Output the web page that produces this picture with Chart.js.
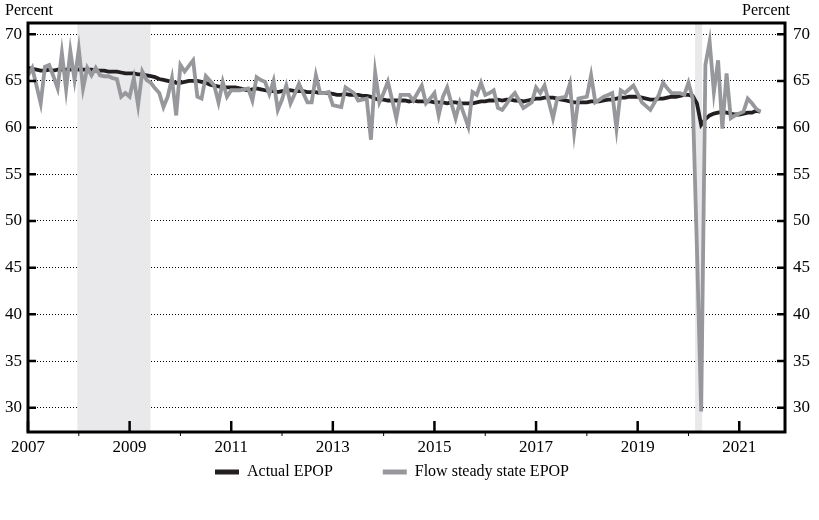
<!DOCTYPE html>
<html>
<head>
<meta charset="utf-8">
<script src="https://cdn.jsdelivr.net/npm/chart.js@4.4.1/dist/chart.umd.min.js"></script>
<style>
  html, body { margin: 0; padding: 0; background: #fff; }
  #wrap { width: 819px; height: 520px; }
</style>
</head>
<body>
<div id="wrap"><canvas id="chart" width="819" height="520"></canvas></div>
<script>
// Données mensuelles, janvier 2007 à juin 2021
const startYear = 2007;

const actualEpop = [
    66.4, 66.3, 66.2, 66.1, 66.1, 66.2, 66.1, 66.2, 66.2, 66.2, 66.2, 66.3, // 2007
    66.2, 66.2, 66.2, 66.2, 66.1, 66.1, 66.1, 66.0, 66.0, 66.0, 65.9, 65.8, // 2008
    65.8, 65.8, 65.7, 65.7, 65.6, 65.5, 65.4, 65.2, 65.1, 65.0, 64.9, 64.8, // 2009
    64.8, 64.9, 65.0, 65.0, 65.0, 64.9, 64.8, 64.6, 64.5, 64.4, 64.3, 64.3, // 2010
    64.3, 64.3, 64.2, 64.1, 64.0, 64.1, 64.2, 64.1, 64.0, 63.9, 63.9, 63.8, // 2011
    63.9, 63.9, 64.0, 63.9, 63.9, 63.9, 63.8, 63.8, 63.8, 63.7, 63.7, 63.7, // 2012
    63.6, 63.5, 63.5, 63.6, 63.5, 63.5, 63.5, 63.4, 63.4, 63.3, 63.1, 63.0, // 2013
    63.0, 62.9, 62.9, 62.9, 62.9, 62.9, 62.8, 62.9, 62.8, 62.8, 62.8, 62.8, // 2014
    62.7, 62.7, 62.7, 62.6, 62.7, 62.7, 62.6, 62.6, 62.6, 62.6, 62.7, 62.8, // 2015
    62.8, 62.9, 62.9, 63.0, 62.9, 63.0, 63.0, 62.9, 62.9, 62.8, 62.9, 63.0, // 2016
    63.1, 63.1, 63.2, 63.2, 63.2, 63.1, 63.0, 62.9, 62.8, 62.7, 62.7, 62.7, // 2017
    62.7, 62.8, 62.8, 62.8, 62.9, 63.0, 63.0, 63.1, 63.2, 63.2, 63.3, 63.3, // 2018
    63.3, 63.2, 63.1, 63.0, 63.0, 63.1, 63.1, 63.2, 63.3, 63.3, 63.4, 63.5, // 2019
    63.5, 63.4, 62.6, 60.3, 60.9, 61.3, 61.5, 61.6, 61.7, 61.6, 61.5, 61.4, // 2020
    61.4, 61.5, 61.6, 61.6, 61.8, 61.7                                      // 2021
];

const flowEpop = [
    65.6, 66.4, 64.5, 62.6, 66.5, 66.7, 65.5, 64.2, 68.0, 64.1, 68.2, 65.1, // 2007
    68.4, 64.2, 66.4, 65.6, 66.4, 65.6, 65.5, 65.5, 65.3, 65.2, 63.3, 63.7, // 2008
    63.3, 65.3, 62.4, 66.0, 65.1, 64.8, 64.2, 63.7, 62.2, 63.3, 65.3, 61.3, // 2009
    66.7, 66.0, 66.6, 67.2, 63.3, 63.1, 65.5, 65.0, 64.5, 62.7, 64.9, 63.3, // 2010
    64.0, 64.0, 64.0, 64.1, 64.2, 62.9, 65.4, 65.1, 64.9, 63.6, 65.0, 61.9, // 2011
    63.0, 64.5, 62.6, 63.6, 64.7, 63.7, 62.7, 62.7, 65.6, 63.7, 63.7, 63.8, // 2012
    62.4, 62.3, 62.2, 64.3, 64.0, 63.7, 62.9, 63.0, 63.1, 58.7, 65.9, 62.7, // 2013
    63.7, 64.9, 63.0, 61.0, 63.5, 63.5, 63.5, 62.9, 63.7, 64.5, 62.6, 63.1, // 2014
    63.7, 61.3, 63.3, 64.3, 62.6, 61.0, 62.7, 61.4, 60.1, 63.8, 63.5, 64.8, // 2015
    63.5, 63.7, 64.0, 62.1, 61.9, 62.5, 63.2, 63.7, 62.9, 62.1, 62.4, 62.7, // 2016
    64.3, 63.7, 64.5, 62.8, 61.0, 63.1, 63.2, 63.3, 64.7, 59.5, 63.1, 63.2, // 2017
    63.3, 65.6, 62.7, 63.0, 63.3, 63.5, 63.7, 59.9, 64.0, 63.7, 64.1, 64.5, // 2018
    63.6, 62.7, 62.3, 61.9, 62.7, 63.5, 64.8, 64.2, 63.7, 63.7, 63.7, 63.5, // 2019
    64.8, 63.1, 47.0, 29.6, 66.7, 69.2, 63.8, 67.2, 59.9, 65.8, 61.0, 61.3, // 2020
    61.5, 61.7, 63.1, 62.6, 62.0, 61.7                                      // 2021
];

const seriesNames = ['Actual EPOP', 'Flow steady state EPOP'];
const yTicks = [30, 35, 40, 45, 50, 55, 60, 65, 70];
const xYears = [2007, 2008, 2009, 2010, 2011, 2012, 2013, 2014, 2015, 2016, 2017, 2018, 2019, 2020, 2021];
const recessions = [[2007.97, 2009.41], [2020.13, 2020.27]];

const FONT = "'Liberation Serif', 'DejaVu Serif', serif";
const LEGEND_FONT = 16;
const LEGEND_GAP = 50;

const toPoints = arr => arr.map((v, i) => ({ x: startYear + i / 12, y: v }));

// Cadre, zones grises, graduations
const framePlugin = {
    id: 'frame',
    beforeDatasetsDraw(chart) {
        const { ctx, chartArea: a, scales: { x } } = chart;
        ctx.save();
        ctx.fillStyle = '#e9e9eb';
        recessions.forEach(([s, e]) => {
            const x0 = x.getPixelForValue(s);
            const x1 = x.getPixelForValue(e);
            ctx.fillRect(x0, a.top, x1 - x0, a.bottom - a.top);
        });
        ctx.restore();
    },
    afterDatasetsDraw(chart) {
        const { ctx, chartArea: a, scales: { x, y } } = chart;
        ctx.save();
        ctx.strokeStyle = '#000';

        // ticks y (vers l'intérieur, des deux côtés)
        ctx.lineWidth = 2.5;
        yTicks.forEach(v => {
            const py = y.getPixelForValue(v);
            ctx.beginPath();
            ctx.moveTo(a.left, py); ctx.lineTo(a.left + 8, py);
            ctx.moveTo(a.right, py); ctx.lineTo(a.right - 8, py);
            ctx.stroke();
        });

        // ticks x : années impaires longues, paires courtes
        xYears.forEach(yr => {
            const px = x.getPixelForValue(yr);
            ctx.beginPath();
            if (yr % 2 === 1) {
                ctx.lineWidth = 2.5;
                ctx.moveTo(px, a.bottom); ctx.lineTo(px, a.bottom - 11);
            } else {
                ctx.lineWidth = 1;
                ctx.moveTo(px, a.bottom); ctx.lineTo(px, a.bottom + 4);
            }
            ctx.stroke();
        });

        // cadre
        ctx.lineWidth = 3;
        ctx.strokeRect(a.left, a.top, a.right - a.left, a.bottom - a.top);

        // "Percent"
        ctx.fillStyle = '#000';
        ctx.font = '16px ' + FONT;
        ctx.textBaseline = 'alphabetic';
        ctx.textAlign = 'left';
        ctx.fillText('Percent', 5, 15);
        ctx.textAlign = 'right';
        ctx.fillText('Percent', 790, 15);
        ctx.restore();
    }
};

// Légende : hauteur fixe et position comme dans l'original
const legendPlace = {
    id: 'legendPlace',
    beforeLayout(chart) {
        const lg = chart.legend;
        if (lg && !lg._fixedFit) {
            const fit = lg.fit;
            lg.fit = function () { fit.call(this); this.height = 40; };
            lg._fixedFit = true;
        }
    },
    afterLayout(chart) {
        const lg = chart.legend;
        if (!lg) return;
        lg.top = 472 - LEGEND_GAP - LEGEND_FONT / 2;
        lg.bottom = 520;
        lg.height = lg.bottom - lg.top;
        lg.left = 0;
        lg.right = 784;
        lg.width = 784;
    }
};

new Chart(document.getElementById('chart'), {
    type: 'line',
    data: {
        datasets: [
            {
                label: seriesNames[0],
                data: toPoints(actualEpop),
                borderColor: '#231f20',
                backgroundColor: '#231f20',
                borderWidth: 3.8,
                pointRadius: 0,
                tension: 0,
                order: 2
            },
            {
                label: seriesNames[1],
                data: toPoints(flowEpop),
                borderColor: '#97989b',
                backgroundColor: '#97989b',
                borderWidth: 3.8,
                pointRadius: 0,
                tension: 0,
                order: 1
            }
        ]
    },
    options: {
        responsive: false,
        animation: false,
        layout: { padding: { top: 23, bottom: 0, left: 0, right: 0 } },
        plugins: {
            tooltip: { enabled: false },
            legend: {
                position: 'bottom',
                labels: {
                    color: '#000',
                    font: { family: FONT, size: LEGEND_FONT },
                    boxWidth: 24,
                    boxHeight: 5,
                    padding: LEGEND_GAP,
                    sort: (a, b) => a.datasetIndex - b.datasetIndex,
                    generateLabels(chart) {
                        return Chart.defaults.plugins.legend.labels.generateLabels(chart)
                            .map(item => ({ ...item, lineWidth: 0, fillStyle: item.strokeStyle }));
                    }
                }
            }
        },
        scales: {
            x: {
                type: 'linear',
                min: 2007,
                max: 2021.9,
                afterBuildTicks: s => { s.ticks = xYears.map(v => ({ value: v })); },
                afterFit: s => { s.height = 48; },
                grid: { display: false, drawTicks: false },
                border: { display: false },
                ticks: {
                    autoSkip: false,
                    maxRotation: 0,
                    padding: 5,
                    color: '#000',
                    font: { family: FONT, size: 17 },
                    callback: v => (v % 2 === 1 ? String(v) : '')
                }
            },
            y: {
                position: 'left',
                min: 27.4,
                max: 71.2,
                afterBuildTicks: s => { s.ticks = yTicks.map(v => ({ value: v })); },
                afterFit: s => { s.width = 28; },
                grid: { color: '#000', lineWidth: 1, drawTicks: false },
                border: { display: false, dash: [1, 2] },
                ticks: {
                    padding: 6,
                    color: '#000',
                    font: { family: FONT, size: 17 }
                }
            },
            y2: {
                position: 'right',
                min: 27.4,
                max: 71.2,
                afterBuildTicks: s => { s.ticks = yTicks.map(v => ({ value: v })); },
                afterFit: s => { s.width = 34; },
                grid: { display: false, drawTicks: false },
                border: { display: false },
                ticks: {
                    padding: 8,
                    color: '#000',
                    font: { family: FONT, size: 17 }
                }
            }
        }
    },
    plugins: [framePlugin, legendPlace]
});
</script>
</body>
</html>
